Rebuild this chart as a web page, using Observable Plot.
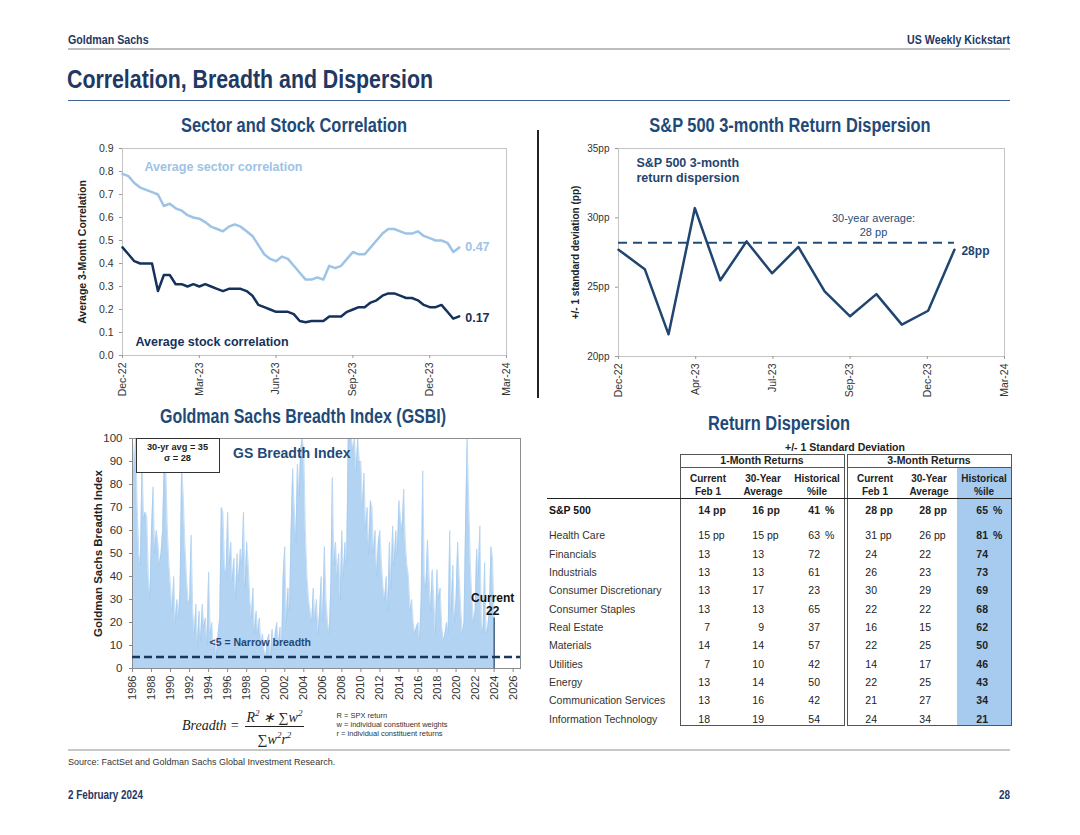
<!DOCTYPE html>
<html>
<head>
<meta charset="utf-8">
<script src="https://cdn.jsdelivr.net/npm/d3@7"></script>
<script src="https://cdn.jsdelivr.net/npm/@observablehq/plot@0.6"></script>
<style>
  html,body{margin:0;padding:0;background:#fff;}
  #page{position:relative;width:1080px;height:835px;overflow:hidden;font-family:"Liberation Sans",Arial,sans-serif;color:#222;}
  .t{position:absolute;white-space:pre;}
  .nb{font-family:"Liberation Sans Narrow","Liberation Sans",Arial,sans-serif;font-weight:bold;}
  .box{position:absolute;box-sizing:border-box;}
  .chart{position:absolute;}
  .chart svg{overflow:visible;background:transparent;}
  .chart g[aria-label="y-axis label"] text{font-weight:bold;fill:#222;}
</style>
</head>
<body>
<div id="page"></div>
<script>
// ================= DATA =================
// Sector and Stock Correlation (weekly readings from 2 Dec 2022)
const corrStartDate = "2022-12-02";
const stockCorr = [0.47,0.44,0.41,0.40,0.40,0.40,0.28,0.35,0.35,0.31,0.31,0.30,0.31,0.30,0.31,0.30,0.29,0.28,0.29,0.29,0.29,0.28,0.26,0.22,0.21,0.20,0.19,0.19,0.19,0.18,0.15,0.145,0.15,0.15,0.15,0.17,0.17,0.17,0.19,0.20,0.21,0.21,0.23,0.24,0.26,0.27,0.27,0.26,0.25,0.25,0.24,0.22,0.21,0.21,0.22,0.19,0.16,0.17];
const sectorCorr = [0.79,0.78,0.75,0.73,0.72,0.71,0.70,0.65,0.66,0.64,0.63,0.61,0.60,0.595,0.58,0.56,0.55,0.54,0.56,0.57,0.56,0.54,0.52,0.48,0.44,0.42,0.41,0.43,0.42,0.39,0.36,0.33,0.33,0.34,0.33,0.39,0.38,0.39,0.42,0.45,0.44,0.44,0.47,0.50,0.53,0.55,0.55,0.54,0.53,0.53,0.54,0.52,0.51,0.50,0.50,0.49,0.45,0.47];
const corrTickDates = ["2022-12-02","2023-03-03","2023-06-02","2023-09-01","2023-12-01","2024-03-01"];
const corrTickLabels = ["Dec-22","Mar-23","Jun-23","Sep-23","Dec-23","Mar-24"];
const corrYTicks = [0,0.1,0.2,0.3,0.4,0.5,0.6,0.7,0.8,0.9];

// S&P 500 3-month return dispersion (monthly)
const dispDates = ["2022-12-31","2023-01-31","2023-02-28","2023-03-31","2023-04-30","2023-05-31","2023-06-30","2023-07-31","2023-08-31","2023-09-30","2023-10-31","2023-11-30","2023-12-31","2024-01-31"];
const dispValues = [27.7,26.3,21.6,30.7,25.5,28.3,26.0,27.9,24.7,22.9,24.5,22.3,23.3,27.7];
const dispAverage = 28.2;
const dispTickDates = ["2022-12-31","2023-04-01","2023-07-01","2023-09-30","2023-12-30","2024-03-30"];
const dispTickLabels = ["Dec-22","Apr-23","Jul-23","Sep-23","Dec-23","Mar-24"];
const dispYTicks = [20,25,30,35];

// Goldman Sachs Breadth Index: six readings per year from 1986
const breadthStartYear = 1986;
const breadthValues = [
 100,85,100,70,50,45,  91,65,68,66,40,30,  60,79,50,60,55,45,  50,60,90,88,60,45,
 35,25,40,20,30,22,    35,89,75,55,40,30,  28,58,25,15,28,10,  25,12,28,18,22,10,
 42,15,20,8,12,6,      15,22,70,68,45,40,  68,45,55,38,48,30,  50,38,52,45,68,35,
 55,45,30,22,35,15,    25,15,22,10,15,8,   5,12,15,4,17,8,     15,20,10,18,8,40,
 53,20,35,25,60,87,    70,55,89,75,95,100, 95,60,40,30,25,20,  35,20,30,15,25,40,
 20,53,30,20,15,35,    83,45,55,40,50,30,  60,40,55,45,100,100, 100,95,100,85,100,90,
 90,70,85,60,70,50,    73,70,50,60,40,55,  60,45,35,30,40,25,  55,35,62,45,60,50,
 73,65,60,78,55,45,    40,25,30,20,15,18,  20,12,30,86,40,35,  56,40,25,43,30,15,
 43,30,35,18,12,15,    20,15,60,25,45,20,  30,55,40,25,15,20,  63,100,73,45,30,20,
 25,52,40,62,20,15,    46,15,18,25,53,48,  22
];
const breadthNarrow = 5;
const breadthAvg = 35, breadthSigma = 28;
const breadthYearTicks = [1986,1988,1990,1992,1994,1996,1998,2000,2002,2004,2006,2008,2010,2012,2014,2016,2018,2020,2022,2024,2026];
const breadthYTicks = [0,10,20,30,40,50,60,70,80,90,100];

// Return dispersion table (+/- 1 standard deviation)
const tableSectors = ["Health Care","Financials","Industrials","Consumer Discretionary","Consumer Staples","Real Estate","Materials","Utilities","Energy","Communication Services","Information Technology"];
const cur1m = [15,13,13,13,13,7,14,7,13,13,18];
const avg1m = [15,13,13,17,13,9,14,10,14,16,19];
const pct1m = [63,72,61,23,65,37,57,42,50,42,54];
const cur3m = [31,24,26,30,22,16,22,14,22,21,24];
const avg3m = [26,22,23,29,22,15,25,17,25,27,34];
const pct3m = [81,74,73,69,68,62,50,46,43,34,21];
const spxLabel = "S&P 500";
const spxRow = [14,16,41,28,28,65];
const colHeads = [["Current","Feb 1"],["30-Year","Average"],["Historical","%ile"],["Current","Feb 1"],["30-Year","Average"],["Historical","%ile"]];
const groupHeads = ["1-Month Returns","3-Month Returns"];

// ================= HELPERS =================
const page = document.getElementById("page");
const narrowOK = (() => {
  const c = document.createElement("canvas").getContext("2d");
  c.font = "40px monospace"; const a = c.measureText("Correlation Breadth").width;
  c.font = '40px "Liberation Sans Narrow", monospace'; const b = c.measureText("Correlation Breadth").width;
  return Math.abs(a - b) > 0.5;
})();
function put(text, x, y, o = {}) {
  const el = document.createElement("div");
  el.className = "t" + (o.narrow ? " nb" : "");
  const size = o.size || 10, lh = o.lh || size * 1.2;
  el.style.fontSize = size + "px";
  el.style.lineHeight = lh + "px";
  if (o.weight) el.style.fontWeight = o.weight;
  el.style.color = o.color || "#222";
  if (o.italic) el.style.fontStyle = "italic";
  if (o.family) el.style.fontFamily = o.family;
  const a = o.anchor || "start";
  el.style.textAlign = a === "middle" ? "center" : a === "end" ? "right" : "left";
  el.textContent = text;
  el.style.left = x + "px";
  el.style.top = (y - lh / 2) + "px";
  let tf = `translateX(${a === "middle" ? "-50%" : a === "end" ? "-100%" : "0"})`;
  if (o.narrow && !narrowOK) tf += " scaleX(0.82)";
  el.style.transform = tf;
  el.style.transformOrigin = a === "middle" ? "center" : a === "end" ? "right" : "left";
  page.appendChild(el);
  return el;
}
function box(x, y, w, h, css) {
  const el = document.createElement("div");
  el.className = "box";
  el.style.left = x + "px"; el.style.top = y + "px";
  el.style.width = w + "px"; el.style.height = h + "px";
  Object.assign(el.style, css);
  page.appendChild(el);
  return el;
}
function chart(svg, x, y) {
  const d = document.createElement("div");
  d.className = "chart"; d.style.left = x + "px"; d.style.top = y + "px";
  d.appendChild(svg); page.appendChild(d);
}
const NAVY = "#1F3864", TITLE = "#1F4A78", LIGHT = "#9DC3E6";
const plotStyle = {fontFamily: '"Liberation Sans", Arial, sans-serif', fontSize: "10.5px", color: "#333", background: "transparent", overflow: "visible"};

// ================= PAGE FRAME =================
put("Goldman Sachs", 68, 40, {size: 13, narrow: true, color: NAVY});
put("US Weekly Kickstart", 1010, 40, {size: 13, narrow: true, color: NAVY, anchor: "end"});
box(68, 48, 942, 2, {background: "#bdbdbd"});
put("Correlation, Breadth and Dispersion", 67, 80, {size: 26, narrow: true, color: NAVY});
box(68, 99.5, 942, 1.5, {background: "#3E6591"});
box(537, 130, 2, 268, {background: "#222"});

put("Sector and Stock Correlation", 294, 125, {size: 20, narrow: true, color: TITLE, anchor: "middle"});
put("S&P 500 3-month Return Dispersion", 790, 125, {size: 20, narrow: true, color: TITLE, anchor: "middle"});
put("Goldman Sachs Breadth Index (GSBI)", 303, 417, {size: 19.5, narrow: true, color: TITLE, anchor: "middle"});
put("Return Dispersion", 779, 423, {size: 20, narrow: true, color: TITLE, anchor: "middle"});

box(68, 749, 942, 2, {background: "#c8c8c8"});
put("Source: FactSet and Goldman Sachs Global Investment Research.", 68, 762, {size: 9, color: "#333"});
put("2 February 2024", 68, 795, {size: 12, narrow: true, color: NAVY});
put("28", 1010, 795, {size: 12, narrow: true, color: NAVY, anchor: "end"});

// ================= CORRELATION =================
const corrData = stockCorr.map((v, i) => ({date: d3.utcDay.offset(new Date(corrStartDate), 7 * i), stock: v, sector: sectorCorr[i]}));
const corrLabelMap = new Map(corrTickDates.map((d, i) => [+new Date(d), corrTickLabels[i]]));
chart(Plot.plot({
  width: 470, height: 265, marginLeft: 62, marginRight: 24, marginTop: 10, marginBottom: 48,
  style: plotStyle,
  x: {type: "utc", domain: [new Date(corrTickDates[0]), new Date(corrTickDates[corrTickDates.length - 1])]},
  y: {domain: [0, 0.9]},
  marks: [
    Plot.frame({stroke: "#c4c4c4"}),
    Plot.axisX({ticks: corrTickDates.map(d => new Date(d)), tickFormat: d => corrLabelMap.get(+d), tickRotate: -90, tickSize: 3, tickPadding: 4, label: null, stroke: "#999"}),
    Plot.axisY({ticks: corrYTicks, tickFormat: d3.format(".1f"), tickSize: 3, tickPadding: 6, label: "Average 3-Month Correlation", labelAnchor: "center", labelOffset: 44, labelArrow: "none", fontSize: 10.5, stroke: "#999"}),
    Plot.line(corrData, {x: "date", y: "sector", stroke: LIGHT, strokeWidth: 2.5}),
    Plot.line(corrData, {x: "date", y: "stock", stroke: "#14325C", strokeWidth: 2.5}),
    Plot.text(corrData, Plot.selectLast({x: "date", y: "sector", text: d => d.sector.toFixed(2), dx: 6, textAnchor: "start", fill: LIGHT, fontWeight: "bold", fontSize: 12.5})),
    Plot.text(corrData, Plot.selectLast({x: "date", y: "stock", text: d => d.stock.toFixed(2), dx: 6, dy: 2, textAnchor: "start", fill: "#14325C", fontWeight: "bold", fontSize: 12.5})),
    Plot.text(["Average sector correlation"], {frameAnchor: "top-left", dx: 22, dy: 18, lineAnchor: "middle", textAnchor: "start", fill: LIGHT, fontWeight: "bold", fontSize: 12.5}),
    Plot.text(["Average stock correlation"], {frameAnchor: "bottom-left", dx: 13, dy: -14, lineAnchor: "middle", textAnchor: "start", fill: "#14325C", fontWeight: "bold", fontSize: 12.5})
  ]
}), 60, 138);

// ================= DISPERSION =================
const dispData = dispDates.map((d, i) => ({date: new Date(d), v: dispValues[i]}));
const dispLabelMap = new Map(dispTickDates.map((d, i) => [+new Date(d), dispTickLabels[i]]));
chart(Plot.plot({
  width: 470, height: 265, marginLeft: 68, marginRight: 16, marginTop: 10, marginBottom: 47,
  style: plotStyle,
  x: {type: "utc", domain: [new Date(dispTickDates[0]), new Date(dispTickDates[dispTickDates.length - 1])]},
  y: {domain: [20, 35]},
  marks: [
    Plot.frame({stroke: "#c4c4c4"}),
    Plot.axisX({ticks: dispTickDates.map(d => new Date(d)), tickFormat: d => dispLabelMap.get(+d), tickRotate: -90, tickSize: 3, tickPadding: 4, label: null, stroke: "#999"}),
    Plot.axisY({ticks: dispYTicks, tickFormat: d => d + "pp", tickSize: 3, tickPadding: 6, label: "+/- 1 standard deviation (pp)", labelAnchor: "center", labelOffset: 47, labelArrow: "none", fontSize: 10, stroke: "#999"}),
    Plot.ruleY([dispAverage], {x1: dispData[0].date, x2: dispData[dispData.length - 1].date, stroke: "#1F4E79", strokeWidth: 2, strokeDasharray: "9,6"}),
    Plot.line(dispData, {x: "date", y: "v", stroke: "#1F4570", strokeWidth: 2.5}),
    Plot.text(dispData, Plot.selectLast({x: "date", y: "v", text: d => Math.round(d.v) + "pp", dx: 7, dy: 1, textAnchor: "start", fill: "#1F4570", fontWeight: "bold", fontSize: 12})),
    Plot.text(["S&P 500 3-month\nreturn dispersion"], {frameAnchor: "top-left", dx: 18, dy: 8, lineAnchor: "top", lineHeight: 1.2, textAnchor: "start", fill: "#1F4570", fontWeight: "bold", fontSize: 12.5}),
    Plot.text([`30-year average:\n${Math.round(dispAverage)} pp`], {frameAnchor: "top-left", dx: 255, dy: 64, lineAnchor: "top", lineHeight: 1.27, textAnchor: "middle", fill: "#1F4E79", fontSize: 11})
  ]
}), 550, 138);

// ================= BREADTH =================
const breadthData = breadthValues.map((v, i) => ({t: breadthStartYear + i / 6, v}));
chart(Plot.plot({
  width: 470, height: 285, marginLeft: 72, marginRight: 10, marginTop: 10, marginBottom: 45,
  style: plotStyle,
  x: {domain: [1986, 2026.77]},
  y: {domain: [0, 100]},
  marks: [
    Plot.areaY(breadthData, {x: "t", y: "v", fill: "#B2D3F2", curve: "linear"}),
    Plot.lineY(breadthData, {x: "t", y: "v", stroke: "#A3C9EE", strokeWidth: 0.6}),
    Plot.frame({stroke: "#8c8c8c"}),
    Plot.axisX({ticks: breadthYearTicks, tickFormat: d => String(d), tickRotate: -90, tickSize: 4, tickPadding: 3, label: null, fontSize: 11, stroke: "#888"}),
    Plot.axisY({ticks: breadthYTicks, tickSize: 3, tickPadding: 7, label: "Goldman Sachs Breadth Index", labelAnchor: "center", labelOffset: 39, labelArrow: "none", fontSize: 11.5, stroke: "#888"}),
    Plot.ruleY([breadthNarrow], {stroke: "#17375E", strokeWidth: 2.5, strokeDasharray: "8,4"}),
    Plot.ruleX(breadthData, Plot.selectLast({x: "t", y: "v", stroke: "#17375E", strokeWidth: 1.2})),
    Plot.text(breadthData, Plot.selectLast({x: "t", y: "v", text: d => "Current\n" + d.v, dx: -1.5, dy: -3, lineAnchor: "bottom", lineHeight: 1.1, textAnchor: "middle", fill: "#111", fontWeight: "bold", fontSize: 12})),
    Plot.text(["GS Breadth Index"], {frameAnchor: "top-left", dx: 100.6, dy: 14.6, lineAnchor: "middle", textAnchor: "start", fill: "#1F4A78", fontWeight: "bold", fontSize: 14}),
    Plot.text([`<${breadthNarrow} = Narrow breadth`], {frameAnchor: "bottom-left", dx: 77, dy: -26.3, lineAnchor: "middle", textAnchor: "start", fill: "#1F4A78", fontWeight: "bold", fontSize: 10.5})
  ]
}), 60, 428);

box(135.7, 437.7, 84, 35, {border: "1px solid #333", background: "#fff"});
put(`30-yr avg = ${breadthAvg}`, 177.5, 448, {size: 9.2, weight: "bold", anchor: "middle"});
put(`σ = ${breadthSigma}`, 177.5, 458.5, {size: 9.2, weight: "bold", anchor: "middle"});

// formula
const f = document.createElement("div");
f.style.cssText = "position:absolute;left:182px;top:705px;display:flex;align-items:center;font-family:'Liberation Serif',serif;font-style:italic;font-size:14px;color:#222;";
f.innerHTML = '<span style="margin-right:5px">Breadth =</span>' +
  '<span style="display:inline-flex;flex-direction:column;align-items:center;line-height:17px">' +
  '<span style="border-bottom:1px solid #222;padding:0 2px">R<sup style="font-size:9px">2</sup> ∗ ∑<i>w</i><sup style="font-size:9px">2</sup></span>' +
  '<span>∑<i>w</i><sup style="font-size:9px">2</sup><i>r</i><sup style="font-size:9px">2</sup></span></span>';
page.appendChild(f);
put("R = SPX return", 336.5, 715, {size: 7.5, color: "#333"});
put("w = individual constituent weights", 336.5, 724.3, {size: 7.5, color: "#333"});
put("r = individual constituent returns", 336.5, 733.3, {size: 7.5, color: "#333"});

// ================= TABLE =================
const colRight = [710, 764, 820, 877, 931, 988];
const colCenter = [708, 763, 817, 875, 929, 984];
const rowY0 = 535.7, rowStep = 18.33, spxY = 510, labelX = 549;
// highlight of 3-month historical percentile column
box(957, 467, 54, 258, {background: "#A7CBEE"});
// group boxes
box(680, 454, 165, 272, {border: "1.5px solid #555"});
box(847, 454, 165, 272, {border: "1.5px solid #555"});
box(680, 466.5, 165, 1.5, {background: "#555"});
box(847, 466.5, 165, 1.5, {background: "#555"});
box(547, 497.5, 465, 1.6, {background: "#222"});
put("+/- 1 Standard Deviation", 845, 447.5, {size: 10.5, weight: "bold", anchor: "middle"});
put(groupHeads[0], 762, 460.5, {size: 10.5, weight: "bold", anchor: "middle"});
put(groupHeads[1], 929, 460.5, {size: 10.5, weight: "bold", anchor: "middle"});
colHeads.forEach((h, j) => {
  put(h[0], colCenter[j], 479, {size: 10, weight: "bold", anchor: "middle"});
  put(h[1], colCenter[j], 492, {size: 10, weight: "bold", anchor: "middle"});
});
function cell(v, j, y, withSuffix, bold) {
  put(String(v), colRight[j], y, {size: 10.5, anchor: "end", weight: bold ? "bold" : "normal", color: "#222"});
  if (withSuffix) {
    const isPct = j === 2 || j === 5;
    put(isPct ? "%" : "pp", colRight[j] + (isPct ? 5 : 3), y, {size: 10.5, weight: bold ? "bold" : "normal", color: "#222"});
  }
}
put(spxLabel, labelX, spxY, {size: 10.5, weight: "bold", color: "#111"});
spxRow.forEach((v, j) => cell(v, j, spxY, true, true));
const cols = [cur1m, avg1m, pct1m, cur3m, avg3m, pct3m];
tableSectors.forEach((s, i) => {
  const y = rowY0 + i * rowStep;
  put(s, labelX, y, {size: 10.5, color: "#333"});
  cols.forEach((arr, j) => cell(arr[i], j, y, i === 0, j === 5));
});
</script>
</body>
</html>
